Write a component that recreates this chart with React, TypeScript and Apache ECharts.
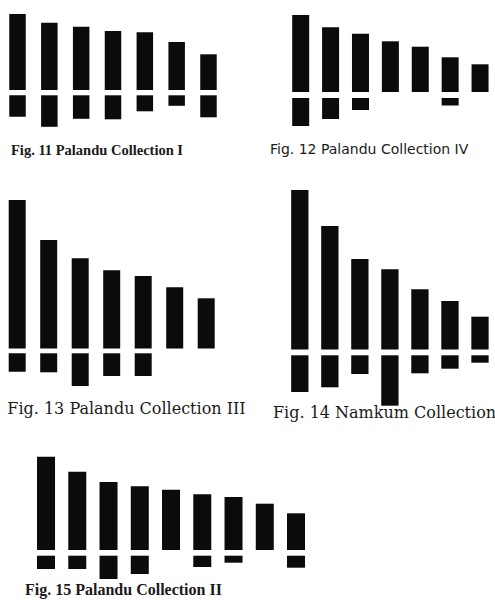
import React, { useEffect, useRef } from "react";
import * as echarts from "echarts";

// Bar lengths (upper part above the gap, lower part below it)
const fig11Upper = [76, 67.3, 63.3, 59, 57.7, 48, 35.7];
const fig11Lower = [21.5, 31.5, 23.5, 24, 16, 10.5, 22];
const fig12Upper = [77, 64.7, 58.3, 50.7, 45.3, 34.7, 27.7];
const fig12Lower = [28, 21, 12, 0, 0, 7.5, 0];
const fig13Upper = [148.5, 108.5, 90.2, 78.2, 72.5, 61.2, 50.2];
const fig13Lower = [18.4, 19, 32.7, 22.7, 22.7, 0, 0];
const fig14Upper = [159.5, 123.5, 90.5, 80.2, 60.2, 48.5, 32.8];
const fig14Lower = [36.7, 32, 18.7, 50.4, 18, 13.4, 7.4];
const fig15Upper = [93.3, 78.3, 68, 63.7, 60.3, 55.7, 53, 46.3, 36.7];
const fig15Lower = [13.3, 13.3, 23.3, 18.3, 0, 11.3, 7, 0, 12];

const titles = [
  "Fig. 11 Palandu Collection I",
  "Fig. 12 Palandu Collection IV",
  "Fig. 13 Palandu Collection III",
  "Fig. 14 Namkum Collection",
  "Fig. 15 Palandu Collection II",
];

const figures = [
  { upper: fig11Upper, lower: fig11Lower, left: 1.6, step: 31.83, barWidth: 16.5, base: 90, upH: 80, lowTop: 95.3, lowH: 40,
    title: { x: 11, y: 150, font: "bold 14.5px 'Liberation Serif'" } },
  { upper: fig12Upper, lower: fig12Lower, left: 285.75, step: 31.1, barWidth: 17, base: 92, upH: 80, lowTop: 98, lowH: 40,
    title: { x: 270, y: 149.4, font: "14px 'DejaVu Sans'" } },
  { upper: fig13Upper, lower: fig13Lower, left: 1.45, step: 31.5, barWidth: 17, base: 348.5, upH: 160, lowTop: 353.3, lowH: 40,
    title: { x: 7.3, y: 408.4, font: "16px 'DejaVu Serif'" } },
  { upper: fig14Upper, lower: fig14Lower, left: 284.8, step: 30.8, barWidth: 17.3, base: 349.5, upH: 160, lowTop: 355.3, lowH: 60,
    title: { x: 273, y: 412.7, font: "16px 'DejaVu Serif'" } },
  { upper: fig15Upper, lower: fig15Lower, left: 30.4, step: 31.25, barWidth: 18, base: 550, upH: 100, lowTop: 555.7, lowH: 30,
    title: { x: 25, y: 589.7, font: "bold 16px 'Liberation Serif'" } },
];

const BAR = "#0b0b0b";

export default function App() {
  const ref = useRef<HTMLDivElement>(null);
  useEffect(() => {
    if (!ref.current) return;
    const chart = echarts.init(ref.current, undefined, { renderer: "svg" });
    const grid: any[] = [];
    const xAxis: any[] = [];
    const yAxis: any[] = [];
    const series: any[] = [];
    const graphic: any[] = [];
    figures.forEach((f, i) => {
      const n = f.upper.length;
      const cats = f.upper.map((_, k) => String(k + 1));
      const width = n * f.step;
      // upper grid
      grid.push({ left: f.left, top: f.base - f.upH, width, height: f.upH, containLabel: false });
      xAxis.push({ type: "category", data: cats, gridIndex: 2 * i, show: false });
      yAxis.push({ type: "value", min: 0, max: f.upH, gridIndex: 2 * i, show: false });
      series.push({
        type: "bar", xAxisIndex: 2 * i, yAxisIndex: 2 * i, data: f.upper,
        barWidth: f.barWidth, itemStyle: { color: BAR }, silent: true,
      });
      // lower grid (inverted)
      grid.push({ left: f.left, top: f.lowTop, width, height: f.lowH, containLabel: false });
      xAxis.push({ type: "category", data: cats, gridIndex: 2 * i + 1, show: false });
      yAxis.push({ type: "value", min: 0, max: f.lowH, inverse: true, gridIndex: 2 * i + 1, show: false });
      series.push({
        type: "bar", xAxisIndex: 2 * i + 1, yAxisIndex: 2 * i + 1, data: f.lower,
        barWidth: f.barWidth, itemStyle: { color: BAR }, silent: true,
      });
      graphic.push({
        type: "text", x: f.title.x, y: f.title.y, silent: true,
        style: { text: titles[i], font: f.title.font, fill: "#1a1a1a", verticalAlign: "middle", align: "left" },
      });
    });
    chart.setOption({
      animation: false,
      backgroundColor: "#ffffff",
      grid, xAxis, yAxis, series, graphic,
    });
    return () => chart.dispose();
  }, []);
  return (
    <div
      ref={ref}
      style={{ position: "fixed", left: 0, top: 0, width: 495, height: 600, background: "#fff" }}
    />
  );
}
